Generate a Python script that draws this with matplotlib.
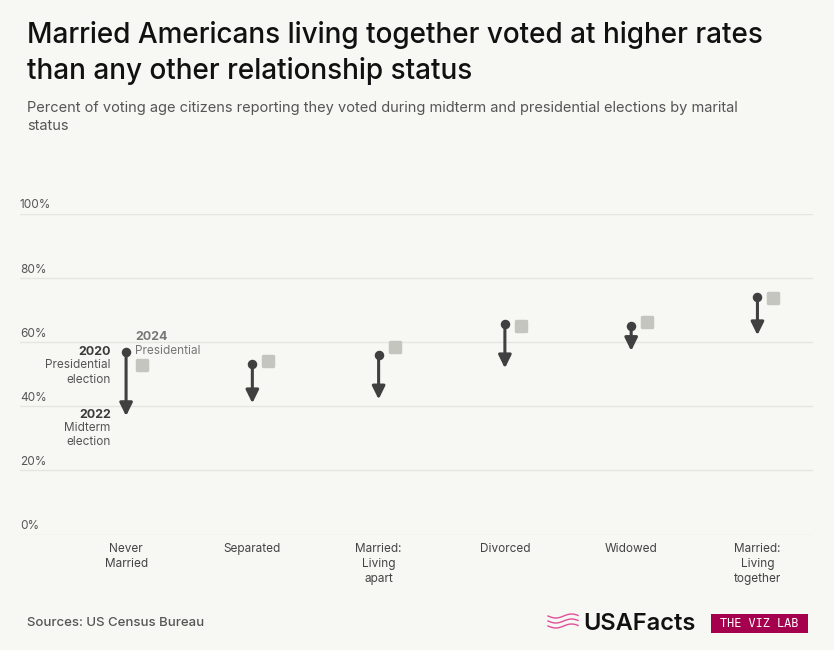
import numpy as np
import matplotlib.pyplot as plt
from matplotlib.patches import FancyBboxPatch

plt.rcParams['font.family'] = ['Inter', 'DejaVu Sans']

categories = ['Never\nMarried', 'Separated', 'Married:\nLiving\napart', 'Divorced',
              'Widowed', 'Married:\nLiving\ntogether']
vote_2020 = [56.8, 53.1, 55.9, 65.7, 65.0, 74.1]
vote_2022 = [36.9, 40.9, 42.1, 51.8, 57.2, 62.1]
vote_2024 = [52.8, 54.0, 58.3, 65.0, 66.3, 73.6]
y_ticks = [0, 20, 40, 60, 80, 100]

bg = '#f7f7f3'
dark = '#404040'
grid_c = '#e6e6e1'
sq_c = '#c5c5c0'

fig = plt.figure(figsize=(8.34, 6.5), dpi=100, facecolor=bg)
ax = fig.add_axes([20 / 834, 115.5 / 650, 793 / 834, 321 / 650])
ax.set_facecolor(bg)
ax.set_xlim(-0.84, 5.44)
ax.set_ylim(0, 100)
for s in ax.spines.values():
    s.set_visible(False)
ax.set_xticks([])
ax.set_yticks([])

for t in y_ticks:
    ax.axhline(t, color=grid_c, lw=1, zorder=0)
    ax.annotate(f'{t}%', xy=(0, t), xycoords=('axes fraction', 'data'),
                xytext=(0, 1.5), textcoords='offset points', ha='left', va='bottom',
                fontsize=8.5, color='#555555')

x = np.arange(len(categories))
for i in x:
    ax.annotate('', xy=(i, vote_2022[i]), xytext=(i, vote_2020[i]),
                arrowprops=dict(arrowstyle='-|>,head_length=0.65,head_width=0.32',
                                lw=2.2, color=dark, shrinkA=0, shrinkB=0,
                                mutation_scale=12), zorder=3)
ax.scatter(x, vote_2020, s=34, color=dark, zorder=4)
ax.scatter(x + 0.127, vote_2024, s=55, marker='s', color=sq_c,
           edgecolor=sq_c, linewidth=2.5, joinstyle='round', zorder=3)

for i, lab in enumerate(categories):
    ax.annotate(lab, xy=(i, 0), xytext=(0, -6), textcoords='offset points',
                ha='center', va='top', fontsize=8.5, color='#444444', linespacing=1.35)

# legend annotations on first group
ax.annotate('2020', xy=(0, vote_2020[0]), xytext=(-11, 0), textcoords='offset points',
            ha='right', va='center', fontsize=9, fontweight='bold', color='#3a3a3a')
ax.annotate('Presidential\nelection', xy=(0, vote_2020[0]), xytext=(-11, -5),
            textcoords='offset points', ha='right', va='top', fontsize=8.5,
            color='#555555', linespacing=1.3)
ax.annotate('2022', xy=(0, vote_2022[0]), xytext=(-11, 1), textcoords='offset points',
            ha='right', va='center', fontsize=9, fontweight='bold', color='#3a3a3a')
ax.annotate('Midterm\nelection', xy=(0, vote_2022[0]), xytext=(-11, -4),
            textcoords='offset points', ha='right', va='top', fontsize=8.5,
            color='#555555', linespacing=1.3)
ax.annotate('2024', xy=(0.127, vote_2024[0]), xytext=(-5, 20), textcoords='offset points',
            ha='left', va='center', fontsize=9, fontweight='bold', color='#777777')
ax.annotate('Presidential', xy=(0.127, vote_2024[0]), xytext=(-5, 10),
            textcoords='offset points', ha='left', va='center', fontsize=8.5,
            color='#777777')

fig.text(27 / 834, 1 - 21 / 650,
         'Married Americans living together voted at higher rates\nthan any other relationship status',
         ha='left', va='top', fontsize=20.1, fontweight='medium', color='#111111',
         linespacing=1.38)
fig.text(27 / 834, 1 - 101 / 650,
         'Percent of voting age citizens reporting they voted during midterm and presidential elections by marital\nstatus',
         ha='left', va='top', fontsize=10.5, color='#555555', linespacing=1.4)

fig.text(27 / 834, 1 - 623 / 650, 'Sources: US Census Bureau', ha='left', va='center',
         fontsize=9.5, fontweight='medium', color='#555555')

# logo
fig.text(583 / 834, 1 - 624 / 650, 'USAFacts', ha='left', va='center', fontsize=17,
         fontweight='semibold', color='#111111')
lx = np.linspace(548, 578, 20)
for k in range(3):
    ly = 616 + k * 5 + 2 * np.sin((lx - 548) / 5.0)
    fig.lines.append(plt.Line2D(lx / 834, 1 - ly / 650, transform=fig.transFigure,
                                color='#e0509a', lw=1))
box = FancyBboxPatch((711 / 834, 1 - 633 / 650), 97 / 834, 19 / 650,
                     boxstyle='square,pad=0', transform=fig.transFigure,
                     facecolor='#a5004e', edgecolor='none')
fig.patches.append(box)
fig.text(759.5 / 834, 1 - 623.5 / 650, 'THE VIZ LAB', ha='center', va='center',
         fontsize=8.5, color='white', family=['DejaVu Sans Mono'])

fig.savefig('out.png', dpi=100, facecolor=bg)
